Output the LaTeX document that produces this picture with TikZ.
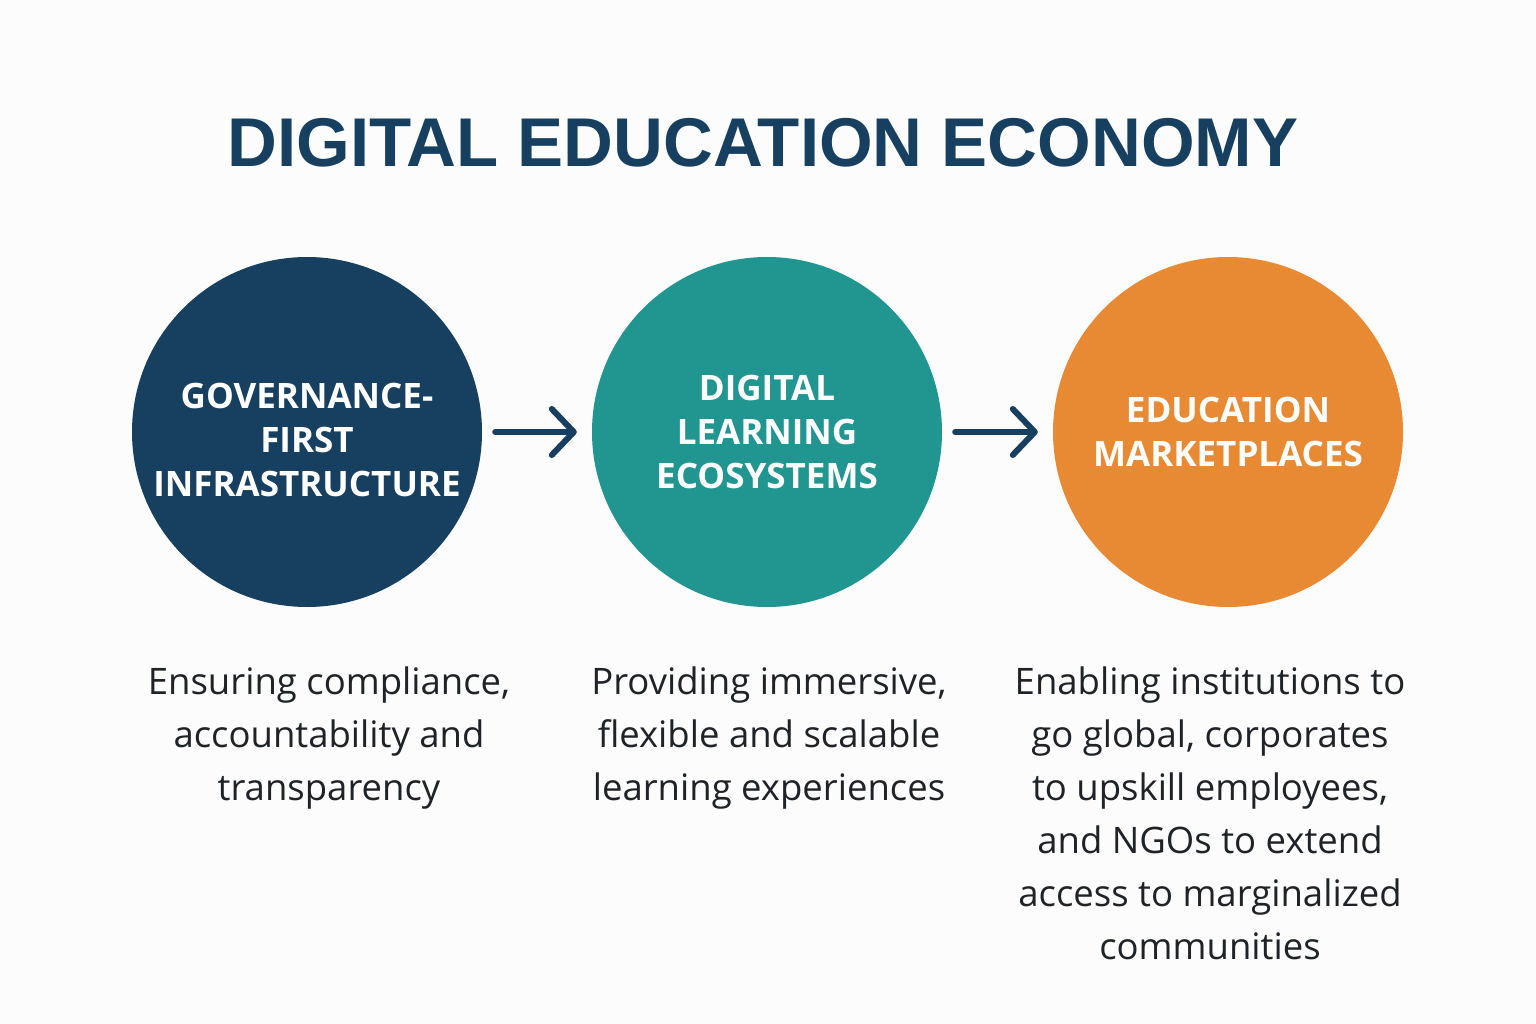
\documentclass[tikz,border=0pt]{standalone}
\usepackage{fontspec}
\setmainfont{Open Sans}
\newfontfamily\titlefont{Liberation Sans}
\usetikzlibrary{arrows.meta}
\definecolor{navy}{HTML}{173F5F}
\definecolor{teal}{HTML}{21958F}
\definecolor{orng}{HTML}{E88A33}
\definecolor{bodytxt}{HTML}{1F2328}
\definecolor{bg}{HTML}{FCFCFC}
\tikzset{
  stage/.style={circle, minimum size=350pt, inner sep=0pt},
  stagetxt/.style={text=white, align=center, inner sep=0pt,
    font=\fontsize{35}{44}\selectfont\bfseries},
  desc/.style={align=center, text=bodytxt, font=\fontsize{36.5}{53}\selectfont, anchor=north},
  flow/.style={navy, line width=6pt, line cap=round,
    -{Straight Barb[length=22pt,width=46pt,line cap=round,line join=round]}}
}
\begin{document}
\begin{tikzpicture}[x=1pt,y=-1pt]
\fill[bg] (0,0) rectangle (1536,1024);
\useasboundingbox (0,0) rectangle (1536,1024);
\node[text=navy, font=\fontsize{69}{80}\selectfont\titlefont\bfseries] (title) at (763,143) {DIGITAL EDUCATION ECONOMY};
\node[stage, fill=navy] (c1) at (307,432) {};
\node[stage, fill=teal] (c2) at (767,432) {};
\node[stage, fill=orng] (c3) at (1228,432) {};
\node[stagetxt] (t1) at (307,440) {GOVERNANCE-\\FIRST\\INFRASTRUCTURE};
\node[stagetxt] (t2) at (767,432) {DIGITAL\\LEARNING\\ECOSYSTEMS};
\node[stagetxt] (t3) at (1228,432) {EDUCATION\\MARKETPLACES};
\draw[flow] ([xshift=13pt]c1.east) -- ([xshift=-15pt]c2.west);
\draw[flow] ([xshift=13pt]c2.east) -- ([xshift=-15pt]c3.west);
\node[desc] (d1) at (329,663) {Ensuring compliance,\\accountability and\\transparency};
\node[desc] (d2) at (769,663) {Providing immersive,\\flexible and scalable\\learning experiences};
\node[desc] (d3) at (1210,663) {Enabling institutions to\\go global, corporates\\to upskill employees,\\and NGOs to extend\\access to marginalized\\communities};
\end{tikzpicture}
\end{document}
